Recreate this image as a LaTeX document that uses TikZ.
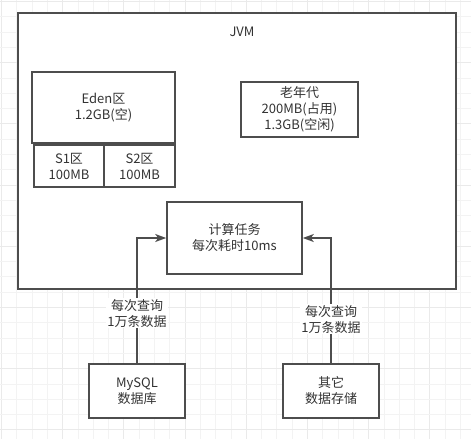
\documentclass[tikz,border=0pt]{standalone}
\usepackage{fontspec}
\setmainfont{Noto Sans CJK SC}
\usetikzlibrary{arrows.meta}
\definecolor{strokec}{HTML}{4D4D4D}
\definecolor{textc}{HTML}{333333}
\definecolor{gridminor}{HTML}{F3F3F3}
\definecolor{gridmajor}{HTML}{EAEAEA}
\begin{document}
\begin{tikzpicture}[x=1pt,y=-1pt,
  box/.style={draw=strokec, line width=1.6pt, fill=white, inner sep=0pt, align=center, text=textc,
    font=\fontsize{13}{16}\selectfont},
  txt/.style={inner sep=1pt, align=center, text=textc, font=\fontsize{13}{16}\selectfont},
  edgelabel/.style={txt, fill=white},
  conn/.style={draw=strokec, line width=1.6pt, -{Stealth[length=11pt,width=8pt,inset=3pt]}}
]
\useasboundingbox (0,0) rectangle (471,439);
\fill[white] (0,0) rectangle (471,439);
% grid
\foreach \i in {0,...,30} {
  \pgfmathsetmacro{\gx}{1.5+15.3*\i}
  \pgfmathtruncatemacro{\ismaj}{mod(\i,4)==0 ? 1 : 0}
  \ifnum\ismaj=1
    \draw[gridmajor, line width=1.1pt] (\gx,0) -- (\gx,439);
  \else
    \draw[gridminor, line width=1pt] (\gx,0) -- (\gx,439);
  \fi
}
\foreach \i in {0,...,28} {
  \pgfmathsetmacro{\gy}{1.5+15.3*\i}
  \pgfmathtruncatemacro{\ismaj}{mod(\i,4)==0 ? 1 : 0}
  \ifnum\ismaj=1
    \draw[gridmajor, line width=1.1pt] (0,\gy) -- (471,\gy);
  \else
    \draw[gridminor, line width=1pt] (0,\gy) -- (471,\gy);
  \fi
}
% JVM container
\node[box, minimum width=438pt, minimum height=276pt] (jvm) at (237,151) {};
\node[txt] (jvmlabel) at (242,32) {JVM};
% memory areas
\node[box, minimum width=143pt, minimum height=71pt] (eden) at (103.5,107.5) {Eden区\\1.2GB(空)};
\node[box, minimum width=70pt, minimum height=42pt] (s1) at (69,166) {S1区\\100MB};
\node[box, minimum width=71pt, minimum height=42pt] (s2) at (139.5,166) {S2区\\100MB};
\node[box, minimum width=117pt, minimum height=55pt] (old) at (299.5,109.5) {老年代\\200MB(占用)\\1.3GB(空闲)};
\node[box, minimum width=135pt, minimum height=72pt] (calc) at (234.5,238) {计算任务\\每次耗时10ms};
% data sources
\node[box, minimum width=96pt, minimum height=54pt] (mysql) at (137,391) {MySQL\\数据库};
\node[box, minimum width=96pt, minimum height=54pt] (other) at (331,391) {其它\\数据存储};
% connectors
\draw[conn] (mysql.north) |- (calc.west) node[edgelabel, pos=0.2] (lblleft) {每次查询\\1万条数据};
\draw[conn] (other.north) |- (calc.east) node[edgelabel, pos=0.176] (lblright) {每次查询\\1万条数据};
\end{tikzpicture}
\end{document}
